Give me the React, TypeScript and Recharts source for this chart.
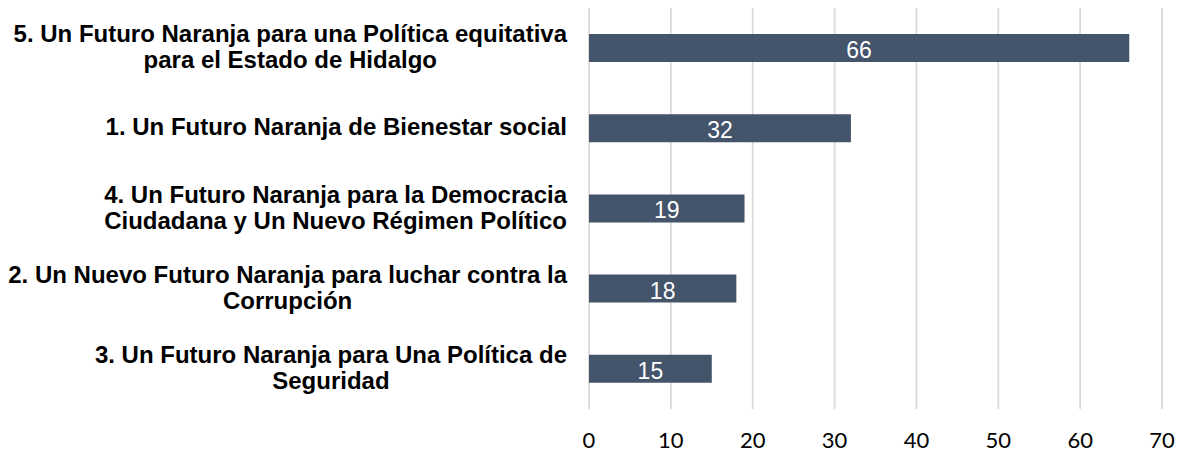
import React from 'react';
import { BarChart, Bar, XAxis, YAxis, CartesianGrid, LabelList } from 'recharts';

// ejes y valores
const CATEGORIES = [
  '5. Un Futuro Naranja para una Política equitativa\npara el Estado de Hidalgo',
  '1. Un Futuro Naranja de Bienestar social',
  '4. Un Futuro Naranja para la Democracia\nCiudadana y Un Nuevo Régimen Político',
  '2. Un Nuevo Futuro Naranja para luchar contra la\nCorrupción',
  '3. Un Futuro Naranja para Una Política de\nSeguridad',
];
const VALUES = [66, 32, 19, 18, 15];
const X_TICKS = [0, 10, 20, 30, 40, 50, 60, 70];

const data = CATEGORIES.map((name, i) => ({ name, value: VALUES[i] }));

const BAR_COLOR = '#44546a';
const GRID_COLOR = '#d9d9d9';
const LABEL_FONT = 'bold 24px "Liberation Sans", Arial, sans-serif';
const LABEL_RIGHT = 567;
const LINE_HEIGHT = 26;

let measureCtx: CanvasRenderingContext2D | null = null;
function textWidth(s: string, font: string) {
  if (!measureCtx) measureCtx = document.createElement('canvas').getContext('2d');
  if (!measureCtx) return s.length * 12;
  measureCtx.font = font;
  return measureCtx.measureText(s).width;
}

function CategoryTick({ y, payload }: any) {
  const lines: string[] = String(payload.value).split('\n');
  const block = Math.max(...lines.map((l) => textWidth(l, LABEL_FONT)));
  const cx = LABEL_RIGHT - block / 2;
  const first = y - ((lines.length - 1) * LINE_HEIGHT) / 2 + 7;
  return (
    <g>
      {lines.map((l, i) => (
        <text
          key={i}
          x={cx}
          y={first + i * LINE_HEIGHT}
          textAnchor="middle"
          fill="#000"
          style={{ font: LABEL_FONT }}
        >
          {l}
        </text>
      ))}
    </g>
  );
}

function ValueTick({ x, payload }: any) {
  return (
    <text x={x} y={448} textAnchor="middle" fill="#000" style={{ fontFamily: 'Lato, sans-serif', fontSize: 22 }}>
      {payload.value}
    </text>
  );
}

function BarValue({ x, y, width, height, value }: any) {
  return (
    <text
      x={x + width / 2}
      y={y + height / 2 + 10}
      textAnchor="middle"
      fill="#fff"
      style={{ fontFamily: '"Liberation Sans", Arial, sans-serif', fontSize: 23 }}
    >
      {value}
    </text>
  );
}

export default function App() {
  return (
    <div style={{ position: 'absolute', left: 0, top: 0, width: 1187, height: 456, background: '#fff' }}>
      <BarChart
        width={1187}
        height={456}
        data={data}
        layout="vertical"
        margin={{ top: 8, right: 25, left: 0, bottom: 0 }}
      >
        <CartesianGrid horizontal={false} stroke={GRID_COLOR} strokeWidth={1.75} />
        <XAxis
          type="number"
          domain={[0, 70]}
          ticks={X_TICKS}
          axisLine={false}
          tickLine={false}
          height={47}
          tick={<ValueTick />}
          interval={0}
        />
        <YAxis
          type="category"
          dataKey="name"
          width={589}
          axisLine={false}
          tickLine={false}
          tick={<CategoryTick />}
          interval={0}
        />
        <Bar dataKey="value" fill={BAR_COLOR} barSize={28} isAnimationActive={false}>
          <LabelList dataKey="value" content={<BarValue />} />
        </Bar>
      </BarChart>
    </div>
  );
}
